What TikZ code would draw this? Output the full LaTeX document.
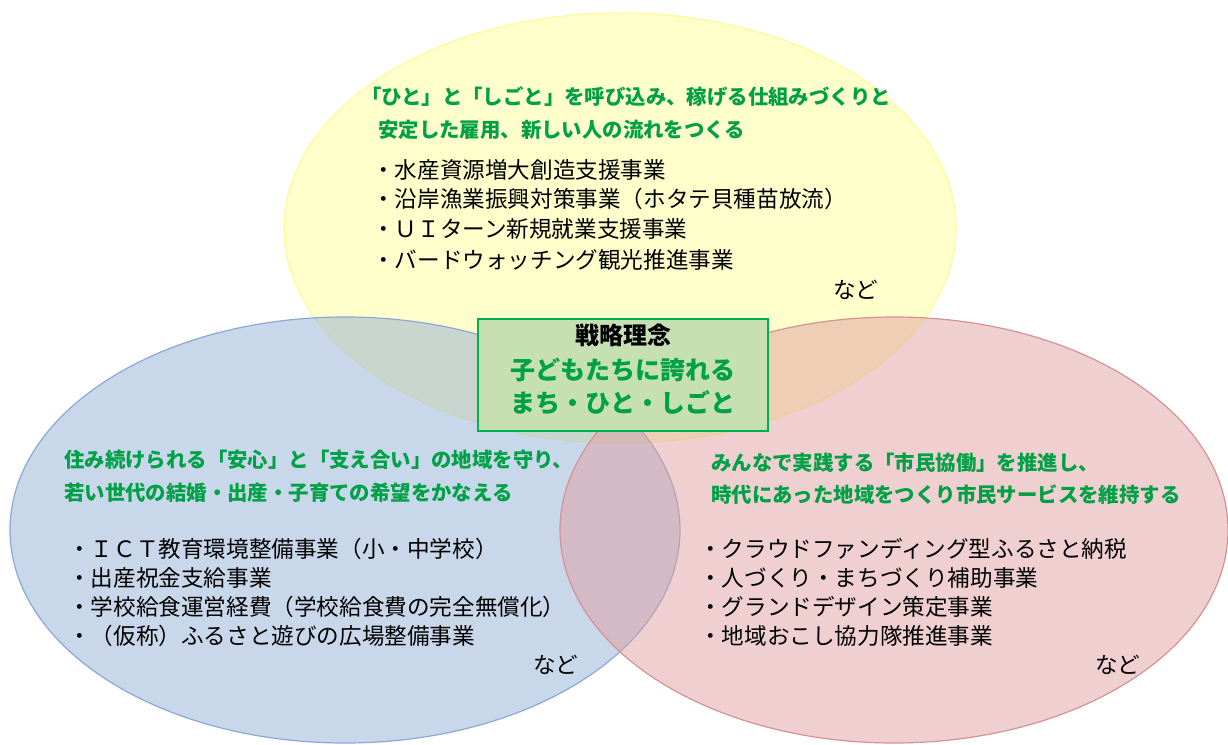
\documentclass[tikz,border=0pt]{standalone}
\usepackage{fontspec}
\setmainfont{Noto Sans CJK JP}
\definecolor{yfill}{RGB}{255,255,153}
\definecolor{ydraw}{RGB}{255,250,150}
\definecolor{bfill}{RGB}{147,175,213}
\definecolor{bdraw}{RGB}{140,168,214}
\definecolor{rfill}{RGB}{223,159,161}
\definecolor{rdraw}{RGB}{214,146,146}
\definecolor{hgreen}{RGB}{0,160,70}
\definecolor{boxfill}{RGB}{198,224,180}
\definecolor{boxdraw}{RGB}{0,176,80}
\tikzset{
  circ/.style={fill opacity=0.5, line width=1.2pt},
  head/.style={anchor=base west, inner sep=0pt, text=hgreen, font=\fontsize{20.4}{24}\selectfont\bfseries},
  item/.style={anchor=base west, inner sep=0pt, text=black, font=\fontsize{22.6}{26}\selectfont},
  ctitle/.style={inner sep=0pt, text=black, font=\fontsize{24}{28}\selectfont\bfseries},
  cgreen/.style={inner sep=0pt, text=hgreen, font=\fontsize{25}{30}\selectfont\bfseries},
}
\begin{document}
\begin{tikzpicture}[x=1pt,y=-1pt]
\useasboundingbox (0,0) rectangle (1228,744);
% ellipses
\path[circ, fill=yfill, draw=ydraw] (620,228) ellipse [x radius=336pt, y radius=215pt];
\path[circ, fill=bfill, draw=bdraw] (345,530) ellipse [x radius=335pt, y radius=213pt];
\path[circ, fill=rfill, draw=rdraw] (894,530) ellipse [x radius=334pt, y radius=213pt];
% center box
\node[draw=boxdraw, fill=boxfill, line width=1.5pt, minimum width=290pt, minimum height=112pt, inner sep=0pt] (core) at (623,375) {};
\node[ctitle] (coreT) at (623,335) {戦略理念};
\node[cgreen] (coreA) at (623,370) {子どもたちに誇れる};
\node[cgreen] (coreB) at (623,403) {まち・ひと・しごと};
% yellow
\node[head] (yh1) at (361,104.6) {「ひと」と「しごと」を呼び込み、稼げる仕組みづくりと};
\node[head] (yh2) at (378,137.6) {安定した雇用、新しい人の流れをつくる};
\node[item] (y1) at (372,178.6) {・水産資源増大創造支援事業};
\node[item] (y2) at (372,207.6) {・沿岸漁業振興対策事業（ホタテ貝種苗放流）};
\node[item] (y3) at (372,237.6) {・ＵＩターン新規就業支援事業};
\node[item] (y4) at (372,268.6) {・バードウォッチング観光推進事業};
\node[item] (y5) at (833,298.6) {など};
% blue
\node[head] (bh1) at (64,467.6) {住み続けられる「安心」と「支え合い」の地域を守り、};
\node[head] (bh2) at (64,500.6) {若い世代の結婚・出産・子育ての希望をかなえる};
\node[item] (b1) at (68,557.6) {・ＩＣＴ教育環境整備事業（小・中学校）};
\node[item] (b2) at (68,586.6) {・出産祝金支給事業};
\node[item] (b3) at (68,615.6) {・学校給食運営経費（学校給食費の完全無償化）};
\node[item] (b4) at (68,644.6) {・（仮称）ふるさと遊びの広場整備事業};
\node[item] (b5) at (533,673.6) {など};
% red
\node[head] (rh1) at (711,470.6) {みんなで実践する「市民協働」を推進し、};
\node[head] (rh2) at (711,502.6) {時代にあった地域をつくり市民サービスを維持する};
\node[item] (r1) at (699,557.6) {・クラウドファンディング型ふるさと納税};
\node[item] (r2) at (699,586.6) {・人づくり・まちづくり補助事業};
\node[item] (r3) at (699,615.6) {・グランドデザイン策定事業};
\node[item] (r4) at (699,644.6) {・地域おこし協力隊推進事業};
\node[item] (r5) at (1095,673.6) {など};
\end{tikzpicture}
\end{document}
